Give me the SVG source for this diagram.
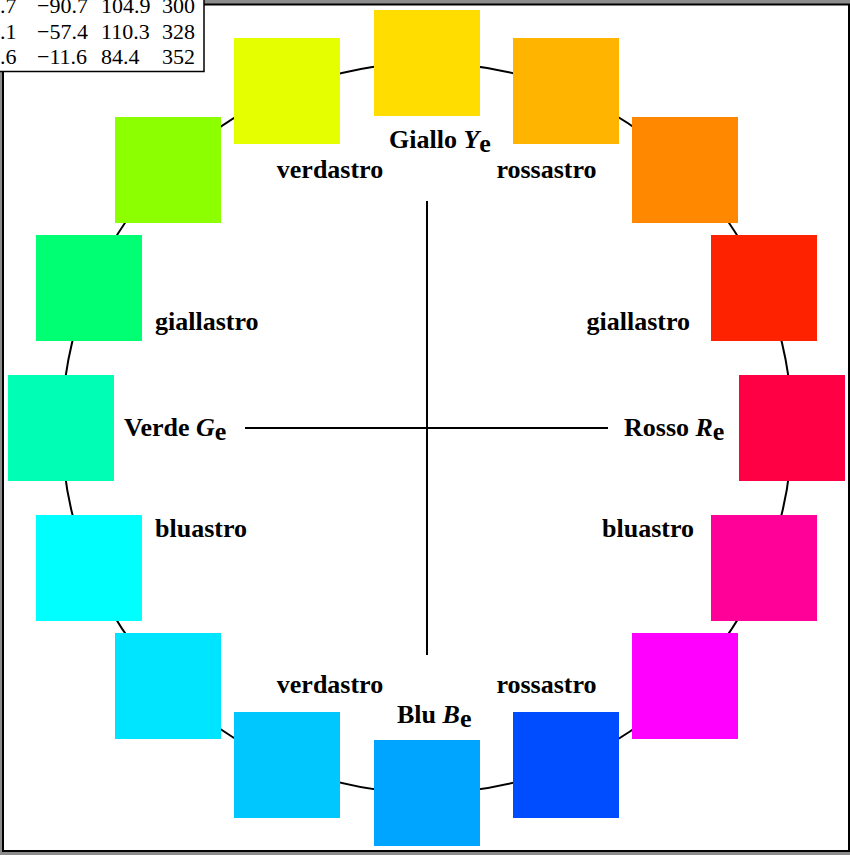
<svg xmlns="http://www.w3.org/2000/svg" width="850" height="855" viewBox="0 0 850 855">
<style>
.lab{font-family:"Liberation Serif","Times New Roman",serif;font-weight:bold;font-size:26px;fill:#000}
.it{font-style:italic}
.tab{font-family:"Liberation Serif","Times New Roman",serif;font-size:22px;fill:#000}
.sq{stroke:none}
.ln{stroke:#000;stroke-width:2;fill:none}
</style>
<rect x="0" y="0" width="850" height="855" fill="#8c8c8c"/>
<rect x="3" y="4.5" width="846" height="846.5" fill="#fff" stroke="#000" stroke-width="2"/>
<g id="wheel">
<circle cx="427" cy="428" r="365" fill="none" stroke="#000" stroke-width="2"/>
</g>
<g id="connectors">
<line class="ln" x1="427" y1="201" x2="427" y2="655"/>
<line class="ln" x1="245" y1="428" x2="608" y2="428"/>
</g>
<g id="sq1"><rect class="sq" x="374" y="10" width="106" height="106" fill="#ffdd00"/></g>
<g id="sq2"><rect class="sq" x="513" y="38" width="106" height="106" fill="#ffb400"/></g>
<g id="sq3"><rect class="sq" x="632" y="117" width="106" height="106" fill="#ff8800"/></g>
<g id="sq4"><rect class="sq" x="711" y="235" width="106" height="106" fill="#ff2200"/></g>
<g id="sq5"><rect class="sq" x="739" y="375" width="106" height="106" fill="#ff0044"/></g>
<g id="sq6"><rect class="sq" x="711" y="515" width="106" height="106" fill="#ff0099"/></g>
<g id="sq7"><rect class="sq" x="632" y="633" width="106" height="106" fill="#ff00ff"/></g>
<g id="sq8"><rect class="sq" x="513" y="712" width="106" height="106" fill="#004cff"/></g>
<g id="sq9"><rect class="sq" x="374" y="740" width="106" height="106" fill="#00a5ff"/></g>
<g id="sq10"><rect class="sq" x="234" y="712" width="106" height="106" fill="#00c8ff"/></g>
<g id="sq11"><rect class="sq" x="115" y="633" width="106" height="106" fill="#00e5ff"/></g>
<g id="sq12"><rect class="sq" x="36" y="515" width="106" height="106" fill="#00ffff"/></g>
<g id="sq13"><rect class="sq" x="8" y="375" width="106" height="106" fill="#00ffb4"/></g>
<g id="sq14"><rect class="sq" x="36" y="235" width="106" height="106" fill="#00ff73"/></g>
<g id="sq15"><rect class="sq" x="115" y="117" width="106" height="106" fill="#8cff00"/></g>
<g id="sq16"><rect class="sq" x="234" y="38" width="106" height="106" fill="#e6ff00"/></g>
<g id="labels">
<text class="lab" x="389" y="148">Giallo <tspan class="it">Y</tspan><tspan dy="4">e</tspan></text>
<text class="lab" x="330" y="178" text-anchor="middle">verdastro</text>
<text class="lab" x="546.5" y="178" text-anchor="middle">rossastro</text>
<text class="lab" x="155" y="330">giallastro</text>
<text class="lab" x="690" y="330" text-anchor="end">giallastro</text>
<text class="lab" x="124" y="436">Verde <tspan class="it">G</tspan><tspan dy="4">e</tspan></text>
<text class="lab" x="624" y="436">Rosso <tspan class="it">R</tspan><tspan dy="4">e</tspan></text>
<text class="lab" x="155" y="537">bluastro</text>
<text class="lab" x="694" y="537" text-anchor="end">bluastro</text>
<text class="lab" x="330" y="693" text-anchor="middle">verdastro</text>
<text class="lab" x="546.5" y="693" text-anchor="middle">rossastro</text>
<text class="lab" x="397" y="723">Blu <tspan class="it">B</tspan><tspan dy="4">e</tspan></text>
</g>
<g id="table">
<rect x="-2" y="-2" width="206" height="73.5" fill="#fff" stroke="#000" stroke-width="1.5"/>
<text class="tab" y="13"><tspan x="0">.7</tspan><tspan x="37">−90.7</tspan><tspan x="101">104.9</tspan><tspan x="162">300</tspan></text>
<text class="tab" y="39"><tspan x="0">.1</tspan><tspan x="37">−57.4</tspan><tspan x="101">110.3</tspan><tspan x="162">328</tspan></text>
<text class="tab" y="64"><tspan x="0">.6</tspan><tspan x="37">−11.6</tspan><tspan x="101">84.4</tspan><tspan x="162">352</tspan></text>
</g>
</svg>
